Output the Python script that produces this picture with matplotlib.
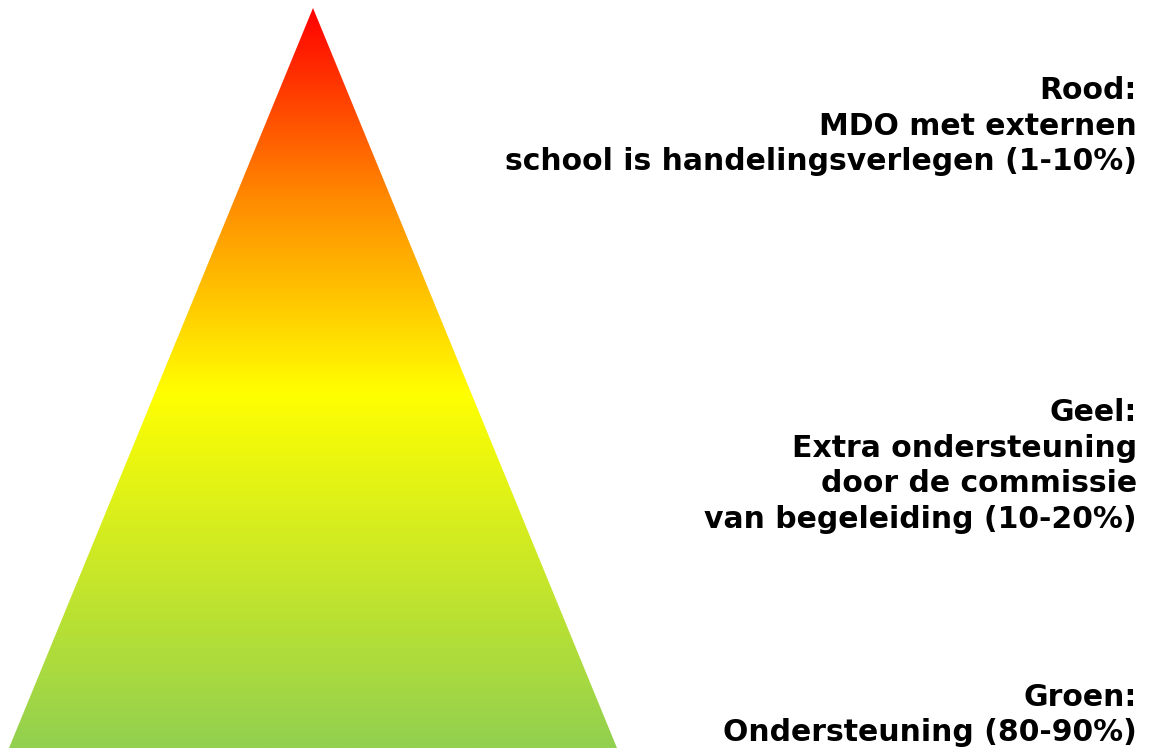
import matplotlib
matplotlib.use("Agg")
import matplotlib.pyplot as plt
import numpy as np
from matplotlib.colors import LinearSegmentedColormap
from matplotlib.patches import Polygon

# Data
levels = ["Rood", "Geel", "Groen"]
labels = [
    "Rood:\nMDO met externen\nschool is handelingsverlegen (1-10%)",
    "Geel:\nExtra ondersteuning\ndoor de commissie\nvan begeleiding (10-20%)",
    "Groen:\nOndersteuning (80-90%)",
]
label_y = [126, 466, 715]
gradient_stops = [0.0, 0.26, 0.52, 1.0]
gradient_colors = ["#FF0000", "#FF8C00", "#FFFF00", "#92D050"]

W, H = 1149, 748
fig = plt.figure(figsize=(W / 100, H / 100), dpi=100)
ax = fig.add_axes([0, 0, 1, 1])
ax.set_xlim(0, W)
ax.set_ylim(H, 0)
ax.axis("off")

apex = (313, 8)
base_y = 748
left_x, right_x = 9, 617

cmap = LinearSegmentedColormap.from_list("pyr", list(zip(gradient_stops, gradient_colors)))
grad = np.linspace(0, 1, 512).reshape(-1, 1)
im = ax.imshow(grad, cmap=cmap, extent=[left_x, right_x, base_y, apex[1]],
               aspect="auto", origin="upper", interpolation="bilinear")
tri = Polygon([apex, (left_x, base_y), (right_x, base_y)], closed=True,
              facecolor="none", edgecolor="none", transform=ax.transData)
ax.add_patch(tri)
im.set_clip_path(tri)

for lab, y in zip(labels, label_y):
    ax.text(1137, y, lab, ha="right", va="center", fontsize=21.5,
            fontweight="bold", family="DejaVu Sans", color="black",
            linespacing=1.29)

fig.savefig("out.png", dpi=100)
